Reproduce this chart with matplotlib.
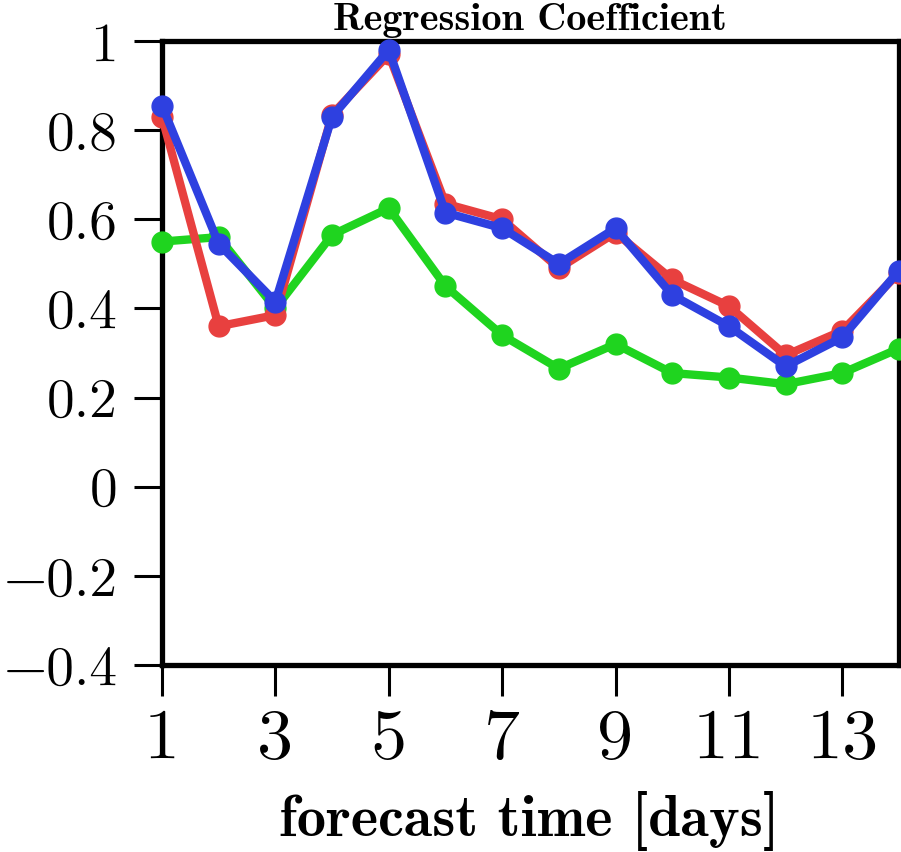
import matplotlib
matplotlib.use("Agg")
import matplotlib.pyplot as plt

days = list(range(1, 15))
red = [0.83, 0.36, 0.385, 0.835, 0.97, 0.635, 0.60, 0.49, 0.57, 0.465, 0.405, 0.295, 0.35, 0.48]
blue = [0.855, 0.545, 0.415, 0.83, 0.98, 0.615, 0.58, 0.50, 0.58, 0.43, 0.36, 0.27, 0.335, 0.485]
green = [0.55, 0.56, 0.40, 0.565, 0.625, 0.45, 0.34, 0.265, 0.32, 0.255, 0.245, 0.23, 0.255, 0.31]

xticks = [1, 3, 5, 7, 9, 11, 13]
yticks = [-0.4, -0.2, 0, 0.2, 0.4, 0.6, 0.8, 1.0]
ytick_labels = ["\u22120.4", "\u22120.2", "0", "0.2", "0.4", "0.6", "0.8", "1"]

FONT = ["Latin Modern Roman", "DejaVu Serif"]
FONT_B = ["Latin Modern Roman Demi", "DejaVu Serif"]

W, H = 901, 852
fig = plt.figure(figsize=(W / 100, H / 100), dpi=100)
ax = fig.add_axes([162 / W, 1 - 665 / H, (899 - 162) / W, (665 - 41) / H])

style = dict(lw=6, marker="o", ms=15, clip_on=False, solid_joinstyle="round")
ax.plot(days, green, color="#1fd41f", zorder=3, **style)
ax.plot(days, red, color="#e8403f", zorder=4, **style)
ax.plot(days, blue, color="#2e40e0", zorder=5, **style)

ax.set_xlim(1, 14)
ax.set_ylim(-0.4, 1.0)
ax.set_xticks(xticks)
ax.set_xticklabels([str(t) for t in xticks], family=FONT, fontsize=52)
ax.set_yticks(yticks)
ax.set_yticklabels(ytick_labels, family=FONT, fontsize=40)

for s in ax.spines.values():
    s.set_linewidth(3.8)
    s.set_zorder(2)
ax.tick_params(axis="x", direction="out", length=22, width=2.2, pad=9, top=False)
ax.tick_params(axis="y", direction="out", length=20, width=2.2, pad=12, right=False)

fig.text(530 / W, 1 - 30 / H, "Regression Coefficient", ha="center",
         va="baseline", family=FONT_B, fontsize=29)
fig.text(529 / W, 1 - 836 / H, "forecast time [days]", ha="center",
         va="baseline", family=FONT_B, fontsize=42)

fig.savefig("out.png", dpi=100)
